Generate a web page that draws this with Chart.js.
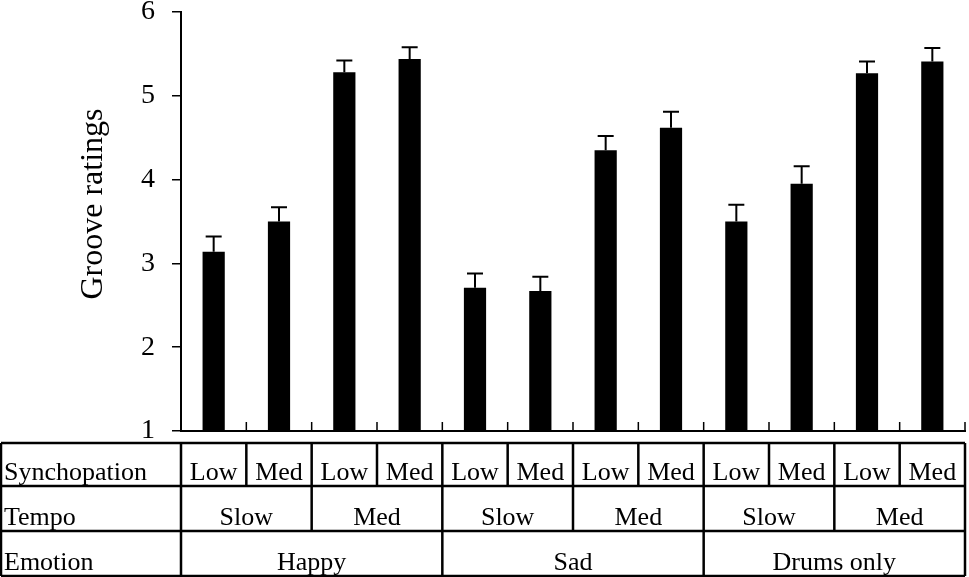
<!DOCTYPE html>
<html>
<head>
<meta charset="utf-8">
<title>Groove ratings</title>
<script src="https://cdn.jsdelivr.net/npm/chart.js@4.4.1/dist/chart.umd.min.js"></script>
<style>
    html, body { margin: 0; padding: 0; background: #fff; }
    #wrap { width: 969px; height: 577px; }
</style>
</head>
<body>
<div id="wrap"><canvas id="grooveChart" width="969" height="577"></canvas></div>
<script>
// Data
const synchopation = ['Low', 'Med', 'Low', 'Med', 'Low', 'Med', 'Low', 'Med', 'Low', 'Med', 'Low', 'Med'];
const tempo = ['Slow', 'Med', 'Slow', 'Med', 'Slow', 'Med'];       // each spans 2 bars
const emotion = ['Happy', 'Sad', 'Drums only'];                      // each spans 4 bars
const grooveMeans = [3.14, 3.50, 5.28, 5.44, 2.71, 2.67, 4.35, 4.62, 3.50, 3.95, 5.27, 5.41];
const grooveErrors = [0.18, 0.17, 0.14, 0.14, 0.17, 0.17, 0.17, 0.19, 0.20, 0.21, 0.14, 0.16];
const yTicks = [1, 2, 3, 4, 5, 6];
const rowLabels = ['Synchopation', 'Tempo', 'Emotion'];

const serif = '"Liberation Serif", "Times New Roman", serif';

// error bars (upper only, with cap)
const errorBars = {
    id: 'errorBars',
    afterDatasetsDraw(chart) {
        const ctx = chart.ctx;
        const y = chart.scales.y;
        const meta = chart.getDatasetMeta(0);
        ctx.save();
        ctx.strokeStyle = '#000';
        ctx.lineWidth = 2;
        meta.data.forEach(function(bar, i) {
            const top = y.getPixelForValue(grooveMeans[i] + grooveErrors[i]);
            ctx.beginPath();
            ctx.moveTo(bar.x, bar.y);
            ctx.lineTo(bar.x, top);
            ctx.moveTo(bar.x - 8, top);
            ctx.lineTo(bar.x + 8, top);
            ctx.stroke();
        });
        ctx.restore();
    }
};

// inward ticks on x axis + y title + factor table underneath
const tableAndAxis = {
    id: 'tableAndAxis',
    afterDraw(chart) {
        const ctx = chart.ctx;
        const area = chart.chartArea;
        const n = synchopation.length;
        const step = (area.right - area.left) / n;
        const edge = function(k) { return area.left + step * k; };

        ctx.save();
        ctx.strokeStyle = '#000';
        ctx.fillStyle = '#000';

        // inward category ticks
        ctx.lineWidth = 1.5;
        ctx.beginPath();
        for (let k = 1; k <= n; k++) {
            ctx.moveTo(edge(k), area.bottom);
            ctx.lineTo(edge(k), area.bottom - 9);
        }
        ctx.stroke();

        // y axis title
        ctx.save();
        ctx.translate(94, 204);
        ctx.rotate(-Math.PI / 2);
        ctx.font = '32px ' + serif;
        ctx.textAlign = 'center';
        ctx.textBaseline = 'middle';
        ctx.fillText('Groove ratings', 0, 0);
        ctx.restore();

        // table
        const top = area.bottom + 12;
        const rows = [top, top + 43, top + 88, top + 133];
        const left = 1;
        const right = edge(n);

        ctx.lineWidth = 2.5;
        ctx.beginPath();
        rows.forEach(function(r) {
            ctx.moveTo(left, r);
            ctx.lineTo(right, r);
        });
        ctx.moveTo(left, rows[0]);
        ctx.lineTo(left, rows[3]);
        ctx.moveTo(area.left, rows[0]);
        ctx.lineTo(area.left, rows[3]);
        ctx.moveTo(right, rows[0]);
        ctx.lineTo(right, rows[3]);
        const spans = [1, 2, 4];
        spans.forEach(function(span, r) {
            for (let k = span; k < n; k += span) {
                ctx.moveTo(edge(k), rows[r]);
                ctx.lineTo(edge(k), rows[r + 1]);
            }
        });
        ctx.stroke();

        ctx.font = '26px ' + serif;
        ctx.textBaseline = 'alphabetic';
        ctx.textAlign = 'left';
        rowLabels.forEach(function(label, r) {
            ctx.fillText(label, 4, rows[r + 1] - 6);
        });
        ctx.textAlign = 'center';
        const groups = [synchopation, tempo, emotion];
        groups.forEach(function(list, r) {
            const span = n / list.length;
            list.forEach(function(txt, j) {
                const cx = (edge(j * span) + edge((j + 1) * span)) / 2;
                ctx.fillText(txt, cx, rows[r + 1] - 6);
            });
        });
        ctx.restore();
    }
};

const ctx = document.getElementById('grooveChart').getContext('2d');
new Chart(ctx, {
    type: 'bar',
    data: {
        labels: synchopation.map(function(s, i) { return s + ' ' + (i + 1); }),
        datasets: [{
            data: grooveMeans,
            backgroundColor: '#000',
            borderColor: '#000',
            borderWidth: 0,
            barPercentage: 0.34,
            categoryPercentage: 1
        }]
    },
    options: {
        responsive: false,
        animation: false,
        devicePixelRatio: 1,
        layout: {
            autoPadding: false,
            padding: { left: 0, top: 12, right: 4, bottom: 146 }
        },
        plugins: {
            legend: { display: false },
            tooltip: { enabled: false }
        },
        scales: {
            x: {
                ticks: { display: false },
                grid: { display: false },
                border: { display: true, color: '#000', width: 2 },
                afterFit: function(scale) { scale.height = 0; }
            },
            y: {
                min: yTicks[0],
                max: yTicks[yTicks.length - 1],
                afterBuildTicks: function(scale) {
                    scale.ticks = yTicks.map(function(v) { return { value: v }; });
                },
                afterFit: function(scale) {
                    scale.width = 181;
                    scale.paddingTop = 0;
                    scale.paddingBottom = 0;
                },
                ticks: {
                    color: '#000',
                    padding: 17,
                    font: { family: serif, size: 28, lineHeight: 1 }
                },
                grid: {
                    drawOnChartArea: false,
                    drawTicks: true,
                    tickLength: 9,
                    color: '#000',
                    lineWidth: 1.5
                },
                border: { display: true, color: '#000', width: 2 }
            }
        }
    },
    plugins: [errorBars, tableAndAxis]
});
</script>
</body>
</html>
